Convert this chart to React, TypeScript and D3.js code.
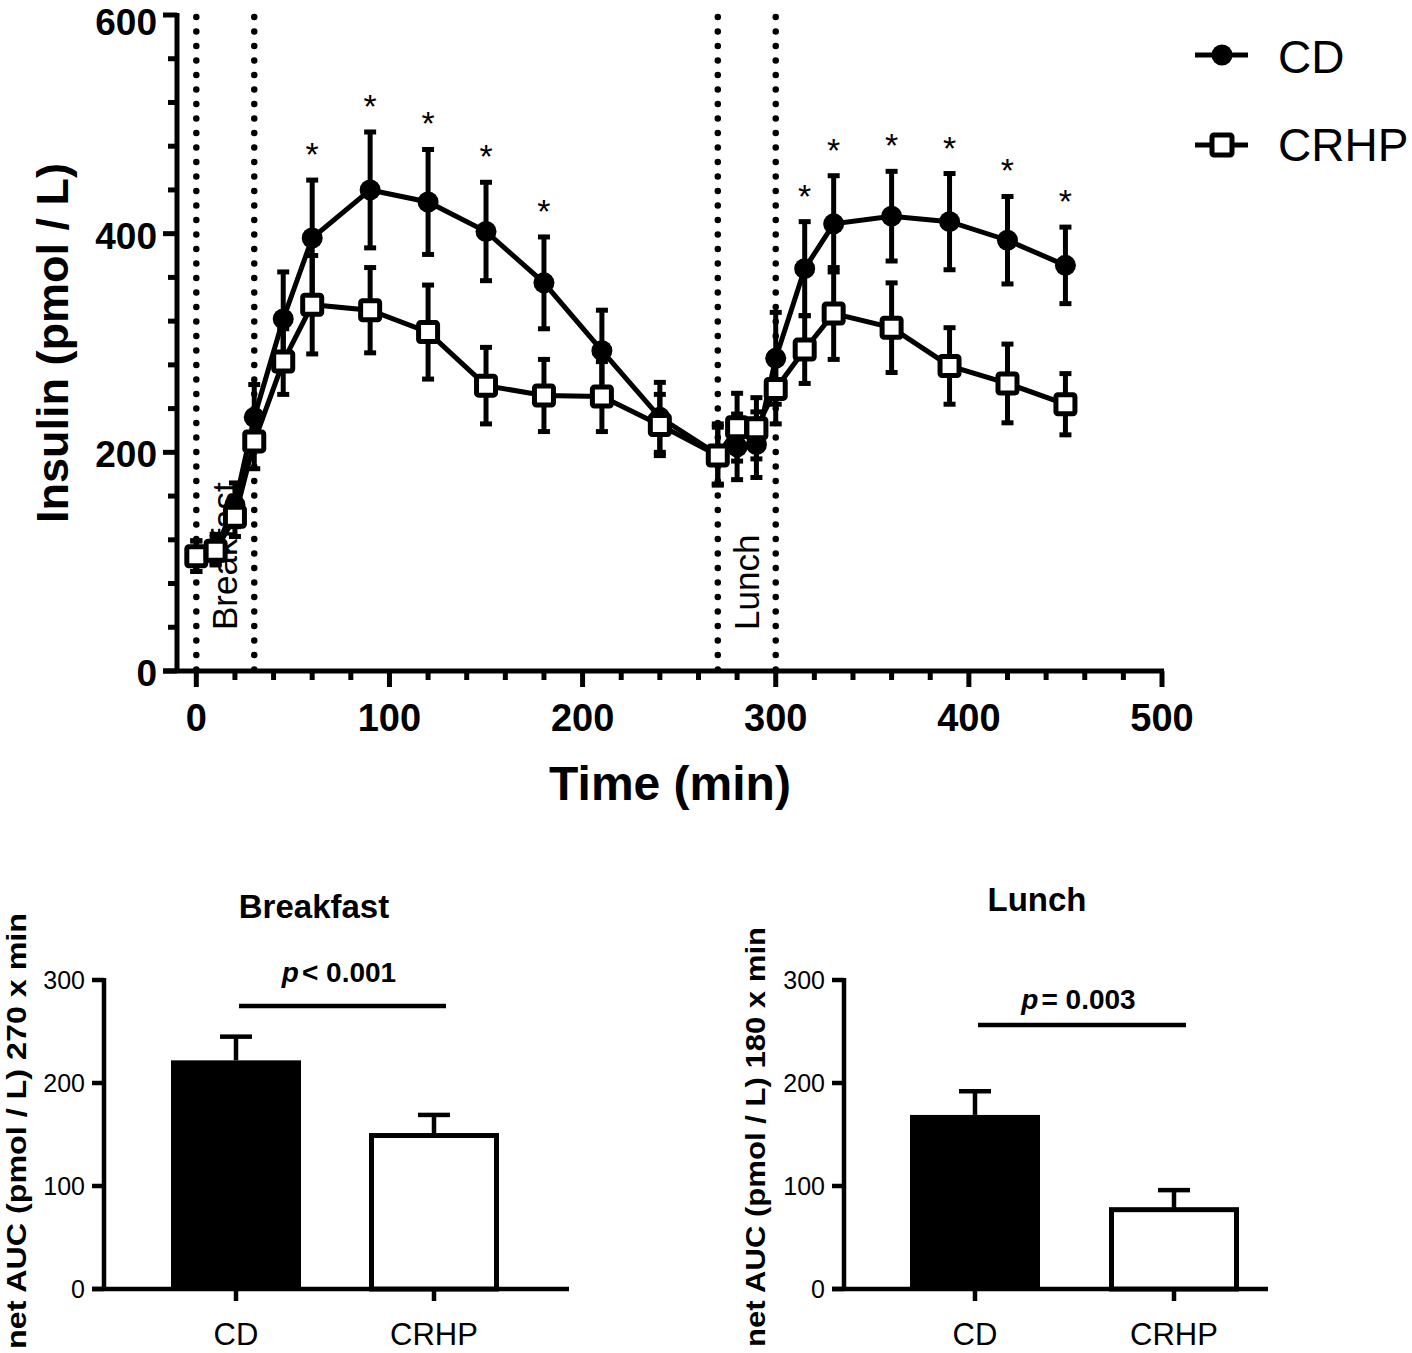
import React from "react";
import * as d3 from "d3";

const times = [0, 10, 20, 30, 45, 60, 90, 120, 150, 180, 210, 240, 270, 280, 290, 300, 315, 330, 360, 390, 420, 450];
const cdMean = [105, 111, 152, 232, 322, 396, 440, 429, 402, 355, 293, 232, 198, 205, 207, 286, 368, 409, 416, 411, 394, 371];
const cdErr = [14, 14, 20, 30, 43, 53, 53, 48, 45, 42, 37, 32, 28, 30, 30, 42, 43, 44, 41, 44, 40, 35];
const crhpMean = [105, 110, 141, 210, 283, 335, 330, 310, 261, 252, 251, 225, 197, 223, 222, 258, 294, 327, 314, 279, 263, 244];
const crhpErr = [14, 12, 18, 25, 30, 45, 39, 43, 35, 33, 32, 28, 26, 31, 28, 32, 31, 42, 41, 35, 36, 28];
const starTimes = [60, 90, 120, 150, 180, 315, 330, 360, 390, 420, 450];
const mealTimes = [0, 30, 270, 300];
const xTicks = [0, 100, 200, 300, 400, 500];
const yTicks = [0, 200, 400, 600];

const groups = ["CD", "CRHP"];
const breakfastAUC = [222, 149];
const breakfastErr = [23, 20];
const lunchAUC = [169, 77];
const lunchErr = [23, 19];
const aucTicks = [0, 100, 200, 300];

const FONT = "'Liberation Sans', Arial, Helvetica, sans-serif";

function TopChart() {
  const x = d3.scaleLinear().domain([-10, 500]).range([177, 1162]);
  const y = d3.scaleLinear().domain([0, 600]).range([671, 15]);
  const line = d3.line<number>().x((_, i) => x(times[i])).y((v) => y(v));
  const minorX = d3.range(0, 501, 20).filter((t) => t % 100 !== 0);
  const minorY = d3.range(0, 601, 40).filter((t) => t % 200 !== 0);
  const cap = 6;
  const sw = 5;

  const errBars = (means: number[], errs: number[]) =>
    means.map((m, i) => {
      const cx = x(times[i]);
      const top = y(m + errs[i]);
      const bot = y(m - errs[i]);
      return (
        <g key={i}>
          <line x1={cx} x2={cx} y1={top} y2={bot} stroke="#000" strokeWidth={sw} />
          <line x1={cx - cap} x2={cx + cap} y1={top} y2={top} stroke="#000" strokeWidth={sw} />
          <line x1={cx - cap} x2={cx + cap} y1={bot} y2={bot} stroke="#000" strokeWidth={sw} />
        </g>
      );
    });

  return (
    <g>
      {mealTimes.map((t) => (
        <line key={t} x1={x(t)} x2={x(t)} y1={y(600) + 2} y2={y(0)} stroke="#000" strokeWidth={6.5}
          strokeDasharray="0 14.5" strokeLinecap="round" />
      ))}
      <text transform={`translate(${x(15) + 12},630) rotate(-90)`} fontFamily={FONT} fontSize={35} textAnchor="start">Breakfast</text>
      <text transform={`translate(${x(285) + 12},630) rotate(-90)`} fontFamily={FONT} fontSize={35} textAnchor="start">Lunch</text>

      <line x1={177} x2={177} y1={y(600) - 2} y2={y(0) + 2} stroke="#000" strokeWidth={5} />
      <line x1={163} x2={x(500) + 2} y1={y(0)} y2={y(0)} stroke="#000" strokeWidth={5} />
      {yTicks.map((t) => (
        <g key={t}>
          <line x1={163} x2={177} y1={y(t)} y2={y(t)} stroke="#000" strokeWidth={5} />
          <text x={157} y={Math.max(y(t) + 15, 35)} textAnchor="end" fontFamily={FONT} fontWeight="bold" fontSize={37}>{t}</text>
        </g>
      ))}
      {minorY.map((t) => (
        <line key={t} x1={168} x2={177} y1={y(t)} y2={y(t)} stroke="#000" strokeWidth={5} />
      ))}
      {xTicks.map((t) => (
        <g key={t}>
          <line x1={x(t)} x2={x(t)} y1={y(0)} y2={y(0) + 16} stroke="#000" strokeWidth={5} />
          <text x={x(t)} y={731} textAnchor="middle" fontFamily={FONT} fontWeight="bold" fontSize={38}>{t}</text>
        </g>
      ))}
      {minorX.map((t) => (
        <line key={t} x1={x(t)} x2={x(t)} y1={y(0)} y2={y(0) + 9} stroke="#000" strokeWidth={5} />
      ))}
      <text x={670} y={800} textAnchor="middle" fontFamily={FONT} fontWeight="bold" fontSize={48}>Time (min)</text>
      <text transform={`translate(68,${(y(0) + y(600)) / 2}) rotate(-90)`} textAnchor="middle" fontFamily={FONT}
        fontWeight="bold" fontSize={45}>Insulin (pmol / L)</text>

      <path d={line(cdMean) || ""} fill="none" stroke="#000" strokeWidth={sw} />
      {errBars(cdMean, cdErr)}
      <path d={line(crhpMean) || ""} fill="none" stroke="#000" strokeWidth={sw} />
      {errBars(crhpMean, crhpErr)}
      {cdMean.map((m, i) => (
        <circle key={i} cx={x(times[i])} cy={y(m)} r={10.5} fill="#000" />
      ))}
      {crhpMean.map((m, i) => (
        <rect key={i} x={x(times[i]) - 9.5} y={y(m) - 9.5} width={19} height={19} rx={2} fill="#fff"
          stroke="#000" strokeWidth={5} />
      ))}
      {starTimes.map((t) => {
        const i = times.indexOf(t);
        return (
          <text key={t} x={x(t)} y={y(cdMean[i] + cdErr[i]) - 14} textAnchor="middle" fontFamily={FONT}
            fontSize={34}>*</text>
        );
      })}

      <line x1={1195} x2={1248} y1={55} y2={55} stroke="#000" strokeWidth={5} />
      <circle cx={1222} cy={55} r={10.5} fill="#000" />
      <text x={1278} y={73} fontFamily={FONT} fontSize={46}>CD</text>
      <line x1={1195} x2={1248} y1={145} y2={145} stroke="#000" strokeWidth={5} />
      <rect x={1212} y={135} width={20} height={20} rx={2} fill="#fff" stroke="#000" strokeWidth={5} />
      <text x={1278} y={161} fontFamily={FONT} fontSize={46}>CRHP</text>
    </g>
  );
}

function BarPanel(props: {
  axisX: number; axisEnd: number; centers: [number, number]; values: number[]; errs: number[];
  title: string; titleX: number; titleY: number; pOp: string; pLineY: number; pTextY: number;
  yLabel: string; yLabelX: number; yLabelTop: number; yLabelLen: number;
}) {
  const { axisX, axisEnd, centers, values, errs } = props;
  const y = d3.scaleLinear().domain([0, 300]).range([1289, 980]);
  const x = d3.scalePoint<string>().domain(groups).range(centers);
  const bw = 130;
  const cap = 16;
  return (
    <g>
      <text x={props.titleX} y={props.titleY} textAnchor="middle" fontFamily={FONT} fontWeight="bold" fontSize={33}>{props.title}</text>
      <line x1={axisX} x2={axisX} y1={y(300) - 2} y2={y(0)} stroke="#000" strokeWidth={4.5} />
      <line x1={axisX - 12} x2={axisEnd} y1={y(0)} y2={y(0)} stroke="#000" strokeWidth={4.5} />
      {aucTicks.map((t) => (
        <g key={t}>
          <line x1={axisX - 12} x2={axisX} y1={y(t)} y2={y(t)} stroke="#000" strokeWidth={4.5} />
          <text x={axisX - 19} y={y(t) + 9} textAnchor="end" fontFamily={FONT} fontSize={25}>{t}</text>
        </g>
      ))}
      {groups.map((g) => (
        <g key={g}>
          <line x1={x(g)!} x2={x(g)!} y1={y(0)} y2={y(0) + 12} stroke="#000" strokeWidth={4.5} />
          <text x={x(g)!} y={1345} textAnchor="middle" fontFamily={FONT} fontSize={31}>{g}</text>
        </g>
      ))}
      {groups.map((g, i) => {
        const cx = x(g)!;
        const top = y(values[i] + errs[i]);
        return (
          <g key={g}>
            <line x1={cx} x2={cx} y1={top} y2={y(values[i])} stroke="#000" strokeWidth={4.5} />
            <line x1={cx - cap} x2={cx + cap} y1={top} y2={top} stroke="#000" strokeWidth={4.5} />
            {i === 0 ? (
              <rect x={cx - bw / 2} y={y(values[i])} width={bw} height={y(0) - y(values[i])} fill="#000" />
            ) : (
              <rect x={cx - bw / 2 + 2.5} y={y(values[i])} width={bw - 5} height={y(0) - y(values[i])} fill="#fff"
                stroke="#000" strokeWidth={5} />
            )}
          </g>
        );
      })}
      <line x1={centers[0] + 3} x2={centers[1] + 12} y1={props.pLineY} y2={props.pLineY} stroke="#000" strokeWidth={4.5} />
      <text x={(centers[0] + centers[1]) / 2 + 4} y={props.pTextY} textAnchor="middle" fontFamily={FONT} fontWeight="bold" fontSize={28}>
        <tspan fontStyle="italic">p</tspan><tspan dx={3}>{props.pOp}</tspan>
      </text>
      <text transform={`translate(${props.yLabelX},${props.yLabelTop}) rotate(-90)`} textAnchor="end" fontFamily={FONT}
        fontWeight="bold" fontSize={28} textLength={props.yLabelLen} lengthAdjust="spacingAndGlyphs">{props.yLabel}</text>
    </g>
  );
}

export default function App() {
  return (
    <svg width={1412} height={1353} viewBox="0 0 1412 1353" style={{ display: "block", position: "absolute", left: 0, top: 0, background: "#fff" }}>
      <rect x={0} y={0} width={1412} height={1353} fill="#fff" />
      <TopChart />
      <BarPanel axisX={104} axisEnd={569} centers={[236, 434]} values={breakfastAUC} errs={breakfastErr}
        title="Breakfast" titleX={314} titleY={918} pOp="< 0.001" pLineY={1006} pTextY={982}
        yLabel="net  AUC (pmol / L) 270 x min" yLabelX={26} yLabelTop={913} yLabelLen={436} />
      <BarPanel axisX={844} axisEnd={1268} centers={[975, 1174]} values={lunchAUC} errs={lunchErr}
        title="Lunch" titleX={1037} titleY={911} pOp="= 0.003" pLineY={1025} pTextY={1009}
        yLabel="net AUC (pmol / L) 180 x min" yLabelX={765} yLabelTop={927} yLabelLen={420} />
    </svg>
  );
}
